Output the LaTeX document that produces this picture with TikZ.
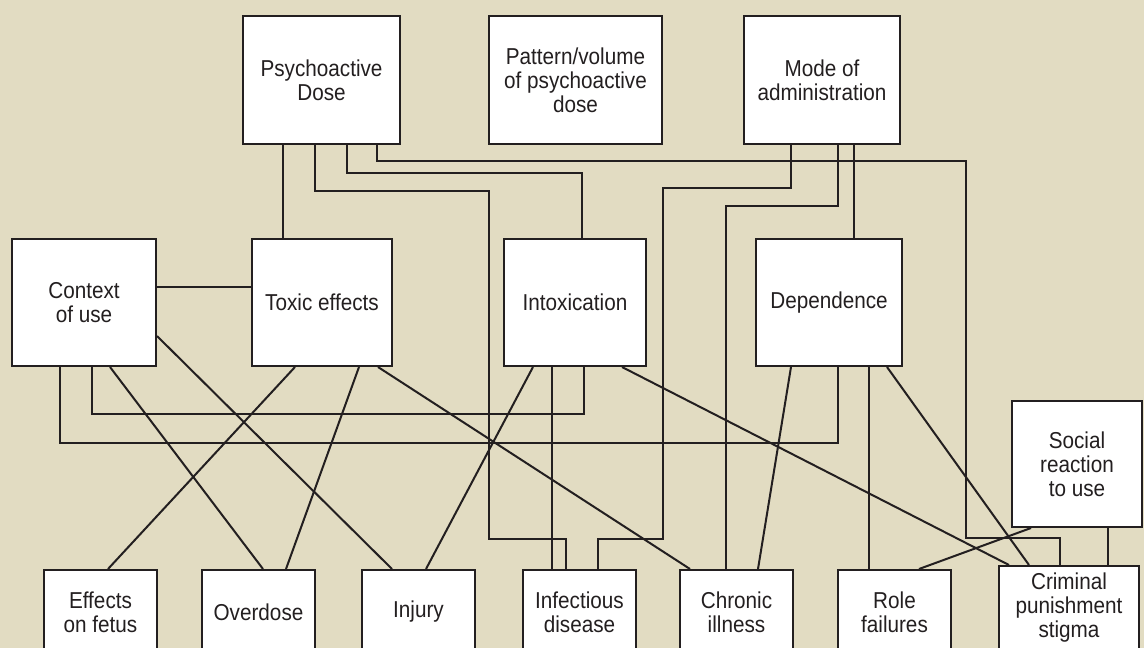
\documentclass[tikz,border=0pt]{standalone}
\usepackage{fontspec}
\setmainfont[FakeStretch=0.9]{Liberation Sans}
\definecolor{bgc}{RGB}{226,220,194}
\definecolor{ink}{RGB}{35,31,32}
\tikzset{
  box/.style={draw=ink, fill=white, line width=2pt, rectangle, inner sep=0pt,
    align=center, text=ink, font=\fontsize{23}{24}\selectfont},
  topbox/.style={box, minimum height=128pt},
  midbox/.style={box, minimum height=127pt},
  botbox/.style={box, minimum width=113pt, minimum height=84pt},
  link/.style={draw=ink, line width=2pt}
}
\begin{document}
\begin{tikzpicture}[x=1pt,y=-1pt]
\useasboundingbox (0,0) rectangle (1144,648);
\fill[bgc] (0,0) rectangle (1144,648);
% top row
\node[topbox, minimum width=157pt] (pd) at (321.5,80) {Psychoactive\\Dose};
\node[topbox, minimum width=173pt] (pat) at (575.5,80) {Pattern/volume\\of psychoactive\\dose};
\node[topbox, minimum width=156pt] (mode) at (822,80) {Mode of\\administration};
% middle row
\node[midbox, minimum width=144pt] (ctx) at (84,302.5) {Context\\of use};
\node[midbox, minimum width=140pt] (tox) at (322,302.5) {Toxic effects};
\node[midbox, minimum width=142pt] (intox) at (575,302.5) {Intoxication};
\node[midbox, minimum width=146pt] (dep) at (829,302.5) {Dependence};
\node[box, minimum width=130pt, minimum height=126pt] (soc) at (1077,464) {Social\\reaction\\to use};
% bottom row
\node[botbox] (fet) at (100.5,612) {Effects\\on fetus};
\node[botbox] (ovd) at (258.5,612) {Overdose};
\node[botbox] (inj) at (418.5,612) {Injury};
\node[botbox] (inf) at (579.5,612) {Infectious\\disease};
\node[botbox] (chr) at (736.5,612) {Chronic\\illness};
\node[botbox] (role) at (894.5,612) {Role\\failures};
\node[botbox, minimum width=140pt] (crim) at (1069,608) {Criminal\\punishment\\stigma};
% connectors from Psychoactive Dose
\draw[link] ([xshift=-38.5pt]pd.south) -- ([xshift=-39pt]tox.north);
\draw[link] ([xshift=-6.5pt]pd.south) |- (489,191) |- (566,539) -- ([xshift=-13.5pt]inf.north);
\draw[link] ([xshift=25.5pt]pd.south) |- (582,173) -- ([xshift=7pt]intox.north);
\draw[link] ([xshift=55.5pt]pd.south) |- (966,161) |- (1060,538) -- ([xshift=-9pt]crim.north);
% connectors from Mode of administration
\draw[link] ([xshift=-31pt]mode.south) |- (663,188) |- (598,539) -- ([xshift=18.5pt]inf.north);
\draw[link] ([xshift=16pt]mode.south) |- (726,206) -- ([xshift=-10.5pt]chr.north);
\draw[link] ([xshift=32pt]mode.south) -- ([xshift=25pt]dep.north);
% connectors from Context of use
\draw[link] ([yshift=15.5pt]ctx.east) -- ([yshift=15.5pt]tox.west);
\draw[link] ([xshift=-24pt]ctx.south) |- (838,443) -- ([xshift=9pt]dep.south);
\draw[link] ([xshift=8pt]ctx.south) |- (584,414) -- ([xshift=9pt]intox.south);
\draw[link] ([xshift=26pt]ctx.south) -- ([xshift=4.5pt]ovd.north);
\draw[link] ([yshift=-33.5pt]ctx.east) -- ([xshift=-26.5pt]inj.north);
% connectors from Toxic effects
\draw[link] ([xshift=-27pt]tox.south) -- ([xshift=7.5pt]fet.north);
\draw[link] ([xshift=37pt]tox.south) -- ([xshift=27.5pt]ovd.north);
\draw[link] ([xshift=56pt]tox.south) -- ([xshift=-46.5pt]chr.north);
% connectors from Intoxication
\draw[link] ([xshift=-42pt]intox.south) -- ([xshift=7.5pt]inj.north);
\draw[link] ([xshift=-23pt]intox.south) -- ([xshift=-27.5pt]inf.north);
\draw[link] ([xshift=47pt]intox.south) -- ([xshift=-60pt]crim.north);
% connectors from Dependence
\draw[link] ([xshift=-38pt]dep.south) -- ([xshift=21.5pt]chr.north);
\draw[link] ([xshift=40pt]dep.south) -- ([xshift=-25.5pt]role.north);
\draw[link] ([xshift=58pt]dep.south) -- ([xshift=-40pt]crim.north);
% connectors from Social reaction
\draw[link] ([xshift=-46pt]soc.south) -- ([xshift=24.5pt]role.north);
\draw[link] ([xshift=31pt]soc.south) -- ([xshift=39pt]crim.north);
\end{tikzpicture}
\end{document}
